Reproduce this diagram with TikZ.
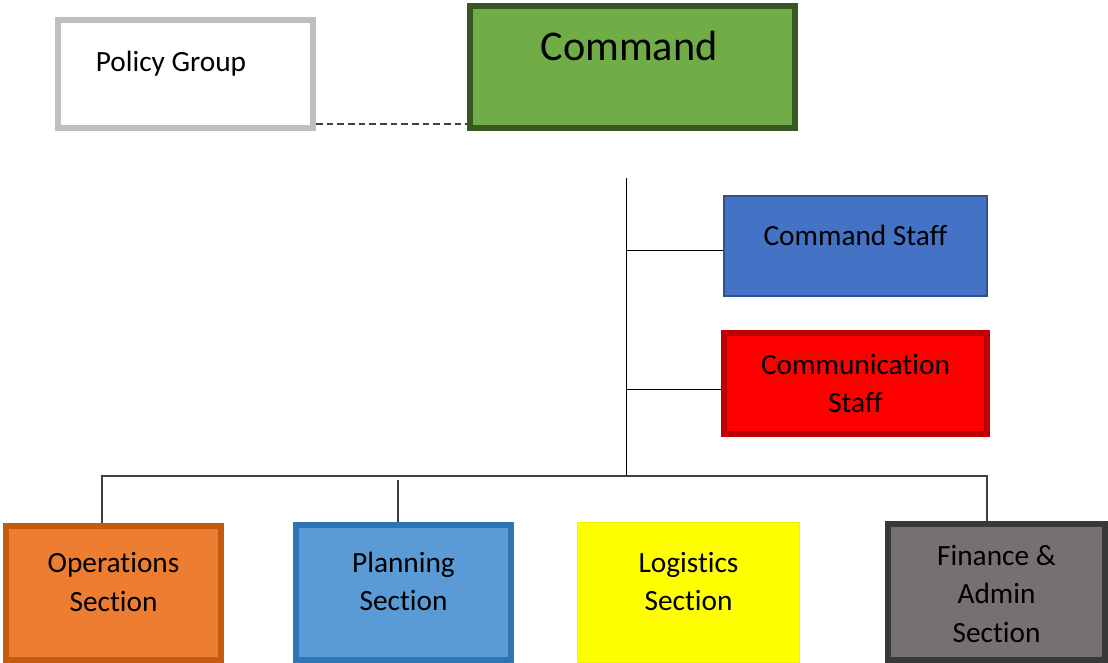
\documentclass[tikz,border=0pt]{standalone}
\usepackage{fontspec}
\setmainfont[Ligatures={NoCommon}]{Carlito}
\usepackage{xcolor}
\usetikzlibrary{positioning}

\definecolor{polline}{HTML}{BFBFBF}
\definecolor{cmdfill}{HTML}{70AD47}
\definecolor{cmdline}{HTML}{385723}
\definecolor{cstfill}{HTML}{4472C4}
\definecolor{cstline}{HTML}{2F528F}
\definecolor{comfill}{HTML}{FF0000}
\definecolor{comline}{HTML}{C00000}
\definecolor{opsfill}{HTML}{ED7D31}
\definecolor{opsline}{HTML}{C55A11}
\definecolor{plnfill}{HTML}{5B9BD5}
\definecolor{plnline}{HTML}{2E75B6}
\definecolor{lgsfill}{HTML}{FFFF00}
\definecolor{lgsline}{HTML}{F2F200}
\definecolor{finfill}{HTML}{767171}
\definecolor{finline}{HTML}{3A3838}
\definecolor{busline}{HTML}{404040}

\begin{document}
\begin{tikzpicture}[
  x=0.75pt, y=-0.75pt,
  font=\fontsize{22pt}{29pt}\selectfont,
  box/.style={draw, inner sep=0pt, line width=4.5pt},
  lbl/.style={align=center, inner sep=0pt},
  pol/.style={box, draw=polline, fill=white, minimum width=191.25pt, minimum height=81pt},
  cmd/.style={box, draw=cmdline, fill=cmdfill, minimum width=243.75pt, minimum height=91.5pt},
  cst/.style={box, draw=cstline, fill=cstfill, line width=1.5pt, minimum width=197.25pt, minimum height=75pt},
  com/.style={box, draw=comline, fill=comfill, minimum width=197.25pt, minimum height=75.75pt},
  ops/.style={box, draw=opsline, fill=opsfill, minimum width=161.25pt, minimum height=100.5pt},
  pln/.style={box, draw=plnline, fill=plnfill, minimum width=161.25pt, minimum height=101.25pt},
  lgs/.style={box, draw=lgsline, fill=lgsfill, line width=0.75pt, minimum width=166.5pt, minimum height=105pt},
  fin/.style={box, draw=finline, fill=finfill, minimum width=162.75pt, minimum height=102pt},
  ln/.style={line width=0.75pt, black},
  bus/.style={line width=1.5pt, busline},
  dsh/.style={line width=0.9pt, busline, dash pattern=on 5pt off 3pt}
]
\useasboundingbox (0,0) rectangle (1108,663);
\node[pol] (pgrp) at (185.5,74)
  [label={[lbl, xshift=-10.9pt, yshift=7.5pt]center:Policy Group}] {};
\node[cmd] (cmd) at (632.5,67)
  [label={[lbl, xshift=-2.6pt, yshift=15.75pt, font=\fontsize{31.7pt}{36pt}\selectfont]center:Command}] {};
\node[cst] (cst) at (855.5,246)
  [label={[lbl, yshift=8.25pt]center:Command Staff}] {};
\node[com] (com) at (855.5,383.5)
  [label={[lbl]center:Communication\\Staff}] {};
\node[ops] (ops) at (113.5,593)
  [label={[lbl, yshift=8pt]center:Operations\\Section}] {};
\node[pln] (pln) at (403.5,592.5)
  [label={[lbl, yshift=8.25pt]center:Planning\\Section}] {};
\node[lgs] (lgs) at (688.5,592.5)
  [label={[lbl, yshift=8.25pt]center:Logistics\\Section}] {};
\node[fin] (fin) at (996.5,592)
  [label={[lbl, yshift=-1.5pt]center:Finance \&\\Admin\\Section}] {};
% trunk and branches
\coordinate (top) at (626,178);
\coordinate (mid) at (626,476);
\coordinate (j1) at (626,251);
\coordinate (j2) at (626,389);
\coordinate (dl) at (0,124);
\coordinate (bl) at (102,476);
\coordinate (br) at (987,476);
\coordinate (pl) at (398,480);
\draw[dsh] (pgrp.east |- dl) -- (cmd.west |- dl);
\draw[ln] (top) -- (mid);
\draw[ln] (j1) -- (j1 -| cst.west);
\draw[ln] (j2) -- (j2 -| com.west);
\draw[bus] (ops.north -| bl) -- (bl) -- (br) -- (br |- fin.north);
\draw[bus] (pl) -- (pl |- pln.north);
\end{tikzpicture}
\end{document}
